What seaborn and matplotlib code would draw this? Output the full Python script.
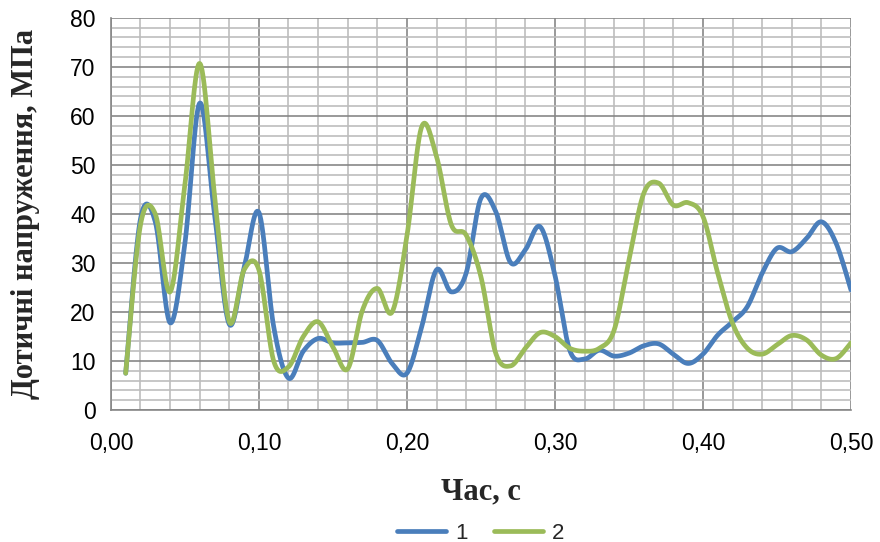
import numpy as np
import pandas as pd
import matplotlib
matplotlib.use("Agg")
import matplotlib.pyplot as plt
from matplotlib.ticker import MultipleLocator, FuncFormatter
import seaborn as sns

# Time samples, s
time_s = [0.01, 0.02, 0.03, 0.04, 0.05, 0.06, 0.07, 0.08, 0.09, 0.10,
          0.11, 0.12, 0.13, 0.14, 0.15, 0.16, 0.17, 0.18, 0.19, 0.20,
          0.21, 0.22, 0.23, 0.24, 0.25, 0.26, 0.27, 0.28, 0.29, 0.30,
          0.31, 0.32, 0.33, 0.34, 0.35, 0.36, 0.37, 0.38, 0.39, 0.40,
          0.41, 0.42, 0.43, 0.44, 0.45, 0.46, 0.47, 0.48, 0.49, 0.50]

# Tangential stress, MPa
stress_1 = [7.5, 39.0, 38.4, 17.8, 34.0, 62.6, 40.0, 17.5, 29.0, 40.3,
            17.0, 6.5, 12.0, 14.6, 13.7, 13.7, 13.8, 14.2, 9.5, 7.5,
            17.0, 28.6, 24.1, 27.9, 43.2, 40.5, 30.1, 32.7, 37.4, 27.5,
            12.2, 10.4, 12.2, 11.0, 11.6, 13.1, 13.5, 11.4, 9.5, 11.4,
            15.3, 18.0, 21.1, 27.9, 33.0, 32.3, 35.0, 38.4, 34.0, 24.5]

stress_2 = [7.5, 37.8, 40.0, 24.1, 46.0, 70.7, 44.0, 18.0, 28.6, 28.6,
            10.0, 8.8, 15.0, 18.0, 12.9, 8.4, 20.4, 24.8, 20.0, 35.5,
            57.8, 51.7, 37.8, 35.7, 27.2, 11.6, 9.0, 12.6, 15.8, 15.0,
            12.6, 12.0, 12.6, 16.3, 30.6, 44.2, 46.3, 41.8, 42.3, 39.5,
            27.9, 17.7, 12.6, 11.4, 13.3, 15.2, 14.3, 11.2, 10.5, 13.7]

series_names = ["1", "2"]
palette = {"1": "#4A7EBB", "2": "#9BBB59"}

x_ticks = [0.0, 0.1, 0.2, 0.3, 0.4, 0.5]
y_ticks = [0, 10, 20, 30, 40, 50, 60, 70, 80]


def smooth_curve(xs, ys, steps=30):
    """Bezier smoothing through every point (Catmull-Rom style control points)."""
    p = np.column_stack([xs, ys]).astype(float)
    ext = np.vstack([p[0], p, p[-1]])
    out = []
    t = np.linspace(0, 1, steps, endpoint=False)[:, None]
    for i in range(1, len(ext) - 2):
        p0, p1, p2, p3 = ext[i - 1], ext[i], ext[i + 1], ext[i + 2]
        c1 = p1 + (p2 - p0) / 6.0
        c2 = p2 - (p3 - p1) / 6.0
        seg = ((1 - t) ** 3) * p1 + 3 * ((1 - t) ** 2) * t * c1 \
            + 3 * (1 - t) * t ** 2 * c2 + t ** 3 * p2
        out.append(seg)
    out.append(p[-1][None, :])
    return np.vstack(out)


frames = []
for name, vals in zip(series_names, [stress_1, stress_2]):
    c = smooth_curve(time_s, vals)
    frames.append(pd.DataFrame({"t": c[:, 0], "v": c[:, 1], "series": name}))
df = pd.concat(frames, ignore_index=True)

sns.set_style("white")
plt.rcParams["font.family"] = ["Liberation Sans", "DejaVu Sans"]

fig = plt.figure(figsize=(8.8, 5.42), dpi=100)
ax = fig.add_axes([0.126, 0.2435, 0.841, 0.7235])

# grid: light minor lines, darker major lines
ax.xaxis.set_minor_locator(MultipleLocator(0.02))
ax.yaxis.set_minor_locator(MultipleLocator(2))
ax.set_xticks(x_ticks)
ax.set_yticks(y_ticks)
ax.grid(which="minor", color="#BDBDBD", linewidth=1.2)
ax.grid(which="major", color="#878787", linewidth=1.2)
ax.set_axisbelow(True)

sns.lineplot(data=df, x="t", y="v", hue="series", palette=palette,
             hue_order=series_names, sort=False, estimator=None,
             linewidth=3.4, ax=ax, legend=True)

ax.set_xlim(0, 0.5)
ax.set_ylim(0, 80)
ax.xaxis.set_major_formatter(FuncFormatter(lambda v, _: f"{v:.2f}".replace(".", ",")))
ax.yaxis.set_major_formatter(FuncFormatter(lambda v, _: f"{int(v)}"))

for side in ["top", "right"]:
    ax.spines[side].set_visible(False)
for side in ["left", "bottom"]:
    ax.spines[side].set_color("#878787")
    ax.spines[side].set_linewidth(1.2)

ax.tick_params(axis="both", which="major", direction="out", length=5,
               width=1.2, color="#878787", labelsize=16.5, labelcolor="black")
ax.tick_params(axis="both", which="minor", length=0)
ax.tick_params(axis="x", pad=11)
ax.tick_params(axis="y", pad=6)

ax.set_xlabel("Час, с", fontsize=22, fontweight="bold",
              family=["Liberation Serif", "DejaVu Serif"], labelpad=16)
ax.set_ylabel("Дотичні напруження, МПа", fontsize=22, fontweight="bold",
              family=["Liberation Serif", "DejaVu Serif"], labelpad=22)

handles, labels = ax.get_legend_handles_labels()
ax.legend(handles, labels, loc="lower center", bbox_to_anchor=(0.5, -0.375),
          ncol=2, frameon=False, fontsize=16, handlelength=2.2,
          columnspacing=1.2, handletextpad=0.4, borderpad=0.1)

fig.savefig("out.png", dpi=100)
